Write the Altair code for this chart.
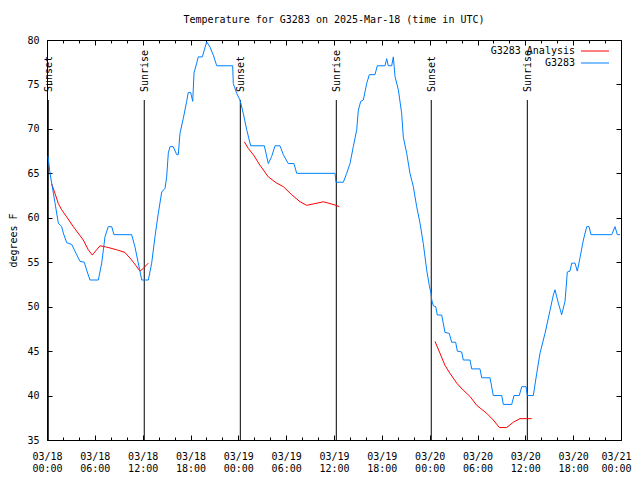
import altair as alt
import pandas as pd

# ---------------- data ----------------
series_names = ["G3283 Analysis", "G3283"]
series_colors = ["#ff0000", "#0080ff"]

# observed station temperature (hours since 03/18 00:00 UTC, deg F)
obs_hours = [0.13, 0.38, 0.66, 1.0, 1.42, 1.84, 2.04, 2.47, 3.10, 3.64, 4.14, 4.68, 4.98, 5.39,
             6.44, 6.86, 7.28, 7.69, 8.12, 8.40, 10.62, 11.04, 11.45, 11.88, 12.71, 13.13, 13.55,
             13.96, 14.39, 14.80, 15.01, 15.22, 15.43, 15.84, 16.27, 16.47, 16.68, 17.10, 17.52,
             17.72, 18.02, 18.28, 18.44, 18.78, 18.98, 19.48, 20.03, 20.45, 20.86, 21.29, 23.29,
             23.37, 23.79, 24.21, 24.62, 25.05, 25.55, 27.26, 27.76, 28.18, 28.60, 29.23, 29.64,
             30.27, 30.98, 31.32, 36.13, 36.25, 37.17, 37.59, 38.01, 38.42, 38.85, 39.05, 39.35,
             39.68, 40.10, 40.43, 41.14, 41.43, 42.40, 42.61, 42.81, 43.24, 43.44, 43.65, 44.07,
             44.49, 44.69, 45.12, 45.53, 45.95, 46.37, 46.79, 47.20, 47.63, 47.95, 48.17, 48.26,
             48.46, 48.76, 48.96, 49.51, 49.92, 50.46, 50.76, 51.26, 51.47, 52.02, 52.22, 53.06,
             53.27, 54.31, 54.53, 55.57, 55.98, 57.04, 57.24, 58.29, 58.58, 59.24, 59.55, 60.09,
             60.25, 61.00, 61.43, 61.84, 62.47, 63.10, 63.51, 63.72, 64.14, 64.56, 64.98, 65.19,
             65.26, 65.60, 65.82, 66.23, 66.52, 66.86, 67.28, 67.70, 67.99, 68.24, 70.84, 71.25,
             71.54, 71.88]
obs_temps = [66.9, 65.0, 63.5, 61.7, 59.4, 59.0, 58.3, 57.2, 57.0, 56.0, 55.1, 55.0, 54.1, 53.0,
             53.0, 54.9, 57.9, 59.0, 59.0, 58.1, 58.1, 56.7, 54.9, 53.0, 53.0, 54.9, 57.9,
             60.5, 62.9, 63.3, 64.6, 67.3, 68.0, 68.0, 67.1, 67.1, 69.5, 71.2, 73.1,
             74.1, 74.1, 73.1, 76.3, 77.4, 78.1, 78.1, 79.8, 79.2, 78.3, 77.1, 77.1,
             75.1, 74.0, 73.25, 71.75, 69.9, 68.1, 68.1, 66.1, 66.9, 68.1, 68.1, 67.1,
             66.1, 66.1, 65.0, 65.0, 64.0, 64.0, 65.0, 66.1, 68.0, 69.9, 72.1, 73.1,
             73.25, 75.1, 76.1, 76.1, 77.1, 77.1, 77.9, 77.1, 77.1, 78.1, 75.9, 74.4,
             71.75, 69.1, 67.25, 65.0, 63.5, 61.25, 59.4, 57.1, 54.1, 52.4, 51.5, 50.75,
             50.1, 50.0, 49.06, 49.06, 47.1, 47.0, 46.0, 46.0, 45.0, 44.9, 44.0, 44.0,
             43.0, 43.0, 42.0, 42.0, 40.0, 40.0, 39.0, 39.0, 40.0, 40.0, 41.0, 41.0,
             40.0, 40.0, 42.5, 44.75, 47.0, 49.6, 51.3, 51.9, 50.4, 49.1, 50.6, 53.0,
             53.9, 54.0, 54.9, 54.9, 54.0, 55.5, 57.5, 59.0, 59.0, 58.1, 58.1, 59.0,
             58.1, 58.1]

# analysis temperature (three separate overnight segments)
ana_hours = [0.59, 1.00, 1.42, 1.84, 2.47, 3.30, 4.55, 5.18, 5.68, 6.23, 6.65, 7.49, 8.74, 9.78,
             10.62, 11.67, 12.08, 12.71,
             24.75, 25.25, 25.88, 26.72, 27.76, 28.81, 29.64, 30.69, 31.74, 32.58, 33.62, 34.66,
             35.50, 36.25, 36.67,
             48.67, 49.30, 49.92, 50.55, 51.39, 52.22, 53.06, 53.90, 54.53, 55.16, 55.98, 56.74,
             57.66, 58.49, 59.33, 60.80]
ana_temps = [63.8, 62.75, 61.6, 60.9, 60.1, 59.0, 57.5, 56.4, 55.8, 56.4, 56.85, 56.7, 56.4, 56.1,
             55.25, 54.0, 54.3, 54.9,
             68.55, 67.8, 67.1, 65.9, 64.6, 63.9, 63.5, 62.6, 61.8, 61.4, 61.6, 61.8,
             61.6, 61.4, 61.25,
             46.1, 44.75, 43.4, 42.5, 41.4, 40.6, 39.9, 38.9, 38.45, 38.0, 37.25, 36.4,
             36.4, 37.0, 37.4, 37.4]
ana_segments = [1] * 18 + [2] * 15 + [3] * 16

event_hours = [0.16, 12.2, 24.25, 36.29, 48.2, 60.25]
event_labels = ["Sunset", "Sunrise", "Sunset", "Sunrise", "Sunset", "Sunrise"]

x_major = list(range(0, 73, 6))
x_minor = list(range(0, 73, 2))
y_major = list(range(35, 81, 5))
day_labels = ["03/18", "03/19", "03/20", "03/21"]

FONT = "DejaVu Sans Mono"
FS = 10

obs_df = pd.DataFrame({"hour": obs_hours, "temp": obs_temps,
                       "series": series_names[1], "seg": 0})
ana_df = pd.DataFrame({"hour": ana_hours, "temp": ana_temps,
                       "series": series_names[0], "seg": ana_segments})
lines_df = pd.concat([ana_df, obs_df], ignore_index=True)
events_df = pd.DataFrame({"hour": event_hours, "label": event_labels})

xscale = alt.Scale(domain=[0, 72], nice=False, zero=False)
yscale = alt.Scale(domain=[35, 80], nice=False, zero=False)

days_js = "[" + ",".join("'%s'" % d for d in day_labels) + "]"
label_expr = ("[" + days_js + "[floor(datum.value/24)], "
              "(datum.value%24 < 10 ? '0' : '') + (datum.value%24) + ':00']")


def x_label_axis(values, flush):
    extra = {"labelFlush": True, "labelFlushOffset": 10} if flush else {"labelFlush": False}
    return alt.Axis(orient="bottom", values=values, labelExpr=label_expr, ticks=False,
                    tickSize=0, domain=False, grid=False, title=None, labelFont=FONT,
                    labelFontSize=FS, labelColor="black", labelPadding=11,
                    labelLineHeight=12, labelBaseline="top", labelAngle=0,
                    labelOverlap=False, **extra)


y_label_axis = alt.Axis(orient="left", values=y_major, ticks=False, tickSize=0, domain=False,
                        grid=False, title="degrees F", titleFont=FONT, titleFontSize=FS,
                        titleFontWeight="normal", titleColor="black", titleX=-34,
                        titleY=200, titleAngle=270, titleAlign="center",
                        titleBaseline="middle", labelFont=FONT, labelFontSize=FS,
                        labelColor="black", labelPadding=8, labelFlush=False,
                        labelOverlap=False)


def tick_axis(orient, values, size):
    return alt.Axis(orient=orient, values=values, tickSize=size,
                    offset={"expr": str(-size)},
                    labels=False, domain=False, grid=False, title=None,
                    tickColor="black", tickWidth=1)


main = alt.Chart(lines_df).mark_line(strokeWidth=1).encode(
    x=alt.X("hour:Q", scale=xscale, axis=x_label_axis(x_major[:-1], False)),
    y=alt.Y("temp:Q", scale=yscale, axis=y_label_axis),
    color=alt.Color("series:N",
                    scale=alt.Scale(domain=series_names, range=series_colors),
                    sort=series_names,
                    legend=alt.Legend(orient="none", legendX=543, legendY=6, title=None,
                                      symbolType="M-7,0H7", symbolSize=16,
                                      symbolStrokeWidth=1, labelAlign="right",
                                      labelOffset={"expr": "-25"}, labelFont=FONT,
                                      labelFontSize=FS, labelColor="black", rowPadding=2,
                                      padding=0, labelLimit=0)),
    detail="seg:N",
)


def ghost(xaxis, yaxis):
    return alt.Chart(obs_df).mark_line(strokeOpacity=0).encode(
        x=alt.X("hour:Q", scale=xscale, axis=xaxis),
        y=alt.Y("temp:Q", scale=yscale, axis=yaxis),
    )


g0 = ghost(x_label_axis(x_major[-1:], True), None)
g1 = ghost(tick_axis("bottom", x_major, 5), tick_axis("left", y_major, 5))
g2 = ghost(tick_axis("bottom", x_minor, 3), tick_axis("right", y_major, 5))
g3 = ghost(tick_axis("top", x_major, 5), None)
g4 = ghost(tick_axis("top", x_minor, 3), None)

rules = alt.Chart(events_df).mark_rule(color="black", strokeWidth=1).encode(
    x=alt.X("hour:Q", scale=xscale, axis=None),
    y=alt.value(60),
    y2=alt.value(400),
)
texts = alt.Chart(events_df).mark_text(angle=270, align="left", baseline="middle", dy=1,
                                       font=FONT, fontSize=FS, color="black").encode(
    x=alt.X("hour:Q", scale=xscale, axis=None),
    y=alt.value(52),
    text="label:N",
)

chart = alt.layer(g0, g1, g2, g3, g4, rules, texts, main).resolve_axis(
    x="independent", y="independent"
).properties(
    width=574,
    height=400,
    autosize=alt.AutoSizeParams(type="none"),
    padding={"left": 39, "top": 32, "right": 11, "bottom": 34},
    title=alt.TitleParams("Temperature for G3283 on 2025-Mar-18 (time in UTC)",
                          font=FONT, fontSize=FS, fontWeight="normal", color="black",
                          anchor="middle", offset=10),
    background="white",
).configure_view(stroke="black", strokeWidth=1)

chart.save("out.html", embed_options={"renderer": "svg", "actions": False})
